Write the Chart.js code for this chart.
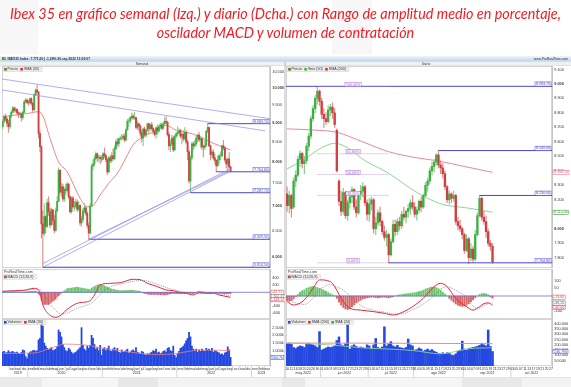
<!DOCTYPE html>
<html lang="es">
<head>
<meta charset="utf-8">
<title>Ibex 35 semanal y diario</title>
<script src="https://cdn.jsdelivr.net/npm/chart.js@4.4.1/dist/chart.umd.min.js"></script>
<style>
  html, body { margin: 0; padding: 0; }
  body { width: 571px; height: 387px; position: relative; overflow: hidden; background: #fff; }
  #titulo { position: absolute; left: 0; top: 4px; width: 571px; text-align: center; color: #ee1c24;
            font-family: Lato, "Open Sans", sans-serif; font-style: italic; font-size: 15px; line-height: 19px; white-space: nowrap; }
  canvas { position: absolute; }
</style>
</head>
<body>
<canvas id="fondo" width="571" height="387" style="left:0;top:0"></canvas>
<div id="titulo"><div id="l1">Ibex 35 en gráfico semanal (Izq.) y diario (Dcha.) con Rango de amplitud medio en porcentaje,</div><div id="l2">oscilador MACD y volumen de contratación</div></div>
<canvas id="precioSem" width="285" height="202" style="left:0;top:66px"></canvas>
<canvas id="macdSem" width="285" height="50" style="left:0;top:269px"></canvas>
<canvas id="volSem" width="285" height="58" style="left:0;top:319px"></canvas>
<canvas id="precioDia" width="286" height="202" style="left:285px;top:66px"></canvas>
<canvas id="macdDia" width="286" height="50" style="left:285px;top:269px"></canvas>
<canvas id="volDia" width="286" height="58" style="left:285px;top:319px"></canvas>
<script>
// ---------- gráfico semanal: Ibex 35, semanas desde el 2 sep 2019 ----------
const semInicio = [2019, 9, 2];
const semFuturo = 27;
const semAp = [
  8900, 9050, 9180, 9110, 9000, 8900, 9200, 9300, 9420, 9350,
  9380, 9290, 9250, 9260, 9150, 9300, 9600, 9650, 9580, 9570,
  9690, 9560, 9370, 9810, 9950, 9890, 8720, 8380, 6630, 6440,
  6780, 6580, 7070, 6880, 6610, 6920, 6700, 6500, 6900, 7100,
  7800, 7300, 7420, 7150, 7360, 7340, 7480, 7200, 6880, 7170,
  6980, 6990, 7080, 6930, 7010, 6650, 6720, 6900, 6960, 6850,
  6600, 6450, 7000, 7900, 7950, 8080, 8200, 8100, 8110, 8080,
  8070, 8200, 8150, 8050, 7760, 8100, 8030, 8150, 8080, 8330,
  8500, 8450, 8580, 8600, 8600, 8650, 8550, 8820, 9050, 9060,
  9150, 9190, 9140, 9150, 8880, 8980, 8920, 8730, 8600, 8840,
  8680, 8800, 8980, 8850, 8950, 8850, 8780, 8700, 8870, 8790,
  8900, 8950, 8860, 8980, 9050, 9020, 8690, 8400, 8450, 8600,
  8300, 8650, 8710, 8750, 8800, 8650, 8700, 8580, 8750, 8500,
  8250, 7550, 8100, 8450, 8400, 8450, 8600, 8680, 8550, 8580,
  8380, 8360, 8410, 8780, 8880, 8400, 8180, 8240, 8100, 8040,
  7910, 8050, 8150, 8150, 8400, 8350, 8050, 7950, 8070, 7880
];
const semMax = [
  9100, 9230, 9250, 9150, 9080, 9230, 9350, 9470, 9450, 9440,
  9400, 9320, 9300, 9280, 9330, 9640, 9700, 9680, 9650, 9710,
  9720, 9580, 9830, 9980, 10100, 9900, 8800, 8400, 6900, 7050,
  6800, 7150, 7200, 6950, 6960, 6930, 6800, 6960, 7200, 7860,
  7820, 7500, 7480, 7400, 7480, 7520, 7500, 7220, 7200, 7210,
  7100, 7150, 7130, 7100, 7030, 6780, 6950, 7050, 7000, 6880,
  6650, 7050, 7950, 8050, 8150, 8250, 8220, 8170, 8160, 8150,
  8230, 8350, 8200, 8080, 8130, 8160, 8230, 8320, 8400, 8560,
  8590, 8600, 8650, 8700, 8700, 8720, 8850, 9100, 9130, 9180,
  9280, 9250, 9300, 9160, 9050, 9000, 8950, 8800, 8870, 8900,
  8830, 9000, 9000, 8980, 9020, 8880, 8820, 8900, 8950, 8950,
  9000, 9000, 9030, 9150, 9180, 9050, 8750, 8550, 8680, 8650,
  8680, 8750, 8900, 8850, 8830, 8720, 8800, 8880, 8800, 8550,
  8300, 8150, 8500, 8500, 8550, 8650, 8700, 8750, 8650, 8620,
  8420, 8550, 8800, 8983.7, 8900, 8420, 8300, 8300, 8200, 8050,
  8150, 8200, 8250, 8420, 8540, 8380, 8080, 8100, 8230, 7900
];
const semMin = [
  8850, 9000, 9050, 8900, 8750, 8850, 9150, 9280, 9300, 9300,
  9220, 9150, 9200, 9050, 9100, 9280, 9560, 9540, 9500, 9540,
  9500, 9300, 9350, 9780, 9850, 8600, 8250, 6350, 5814.5, 6400,
  6450, 6550, 6800, 6550, 6600, 6620, 6450, 6480, 6880, 7100,
  7250, 7200, 7100, 7100, 7250, 7300, 7150, 6850, 6850, 6950,
  6900, 6950, 6880, 6900, 6600, 6580, 6680, 6850, 6800, 6550,
  6329.5, 6430, 6990, 7800, 7900, 8050, 8000, 8020, 7950, 8000,
  8050, 8100, 8000, 7700, 7750, 7980, 7990, 8050, 8050, 8300,
  8400, 8380, 8550, 8540, 8560, 8500, 8520, 8800, 8900, 9000,
  9100, 9100, 9100, 8850, 8820, 8800, 8650, 8500, 8400, 8650,
  8620, 8780, 8720, 8800, 8800, 8700, 8650, 8600, 8700, 8750,
  8850, 8820, 8830, 8950, 8980, 8650, 8300, 8250, 8420, 8250,
  8280, 8600, 8650, 8700, 8600, 8450, 8520, 8560, 8450, 8050,
  7500, 7287.7, 8050, 8300, 8350, 8400, 8500, 8500, 8350, 8300,
  8120, 8300, 8380, 8740, 8380, 8050, 8100, 8050, 7950, 7764.8,
  7880, 7950, 8050, 8120, 8300, 8000, 7850, 7757, 7850, 7760
];
const semCie = [
  9050, 9180, 9110, 9000, 8900, 9200, 9300, 9420, 9350, 9380,
  9290, 9250, 9260, 9150, 9300, 9600, 9650, 9580, 9570, 9690,
  9560, 9370, 9810, 9950, 9890, 8720, 8380, 6630, 6440, 6780,
  6580, 7070, 6880, 6610, 6920, 6700, 6500, 6900, 7100, 7800,
  7300, 7420, 7150, 7360, 7340, 7480, 7200, 6880, 7170, 6980,
  6990, 7080, 6930, 7010, 6650, 6720, 6900, 6960, 6850, 6600,
  6450, 7000, 7900, 7950, 8080, 8200, 8100, 8110, 8080, 8070,
  8200, 8150, 8050, 7760, 8100, 8030, 8150, 8080, 8330, 8500,
  8450, 8580, 8600, 8600, 8650, 8550, 8820, 9050, 9060, 9150,
  9190, 9140, 9150, 8880, 8980, 8920, 8730, 8600, 8840, 8680,
  8800, 8980, 8850, 8950, 8850, 8780, 8700, 8870, 8790, 8900,
  8950, 8860, 8980, 9050, 9020, 8690, 8400, 8450, 8600, 8300,
  8650, 8710, 8750, 8800, 8650, 8700, 8580, 8750, 8500, 8250,
  7550, 8100, 8450, 8400, 8450, 8600, 8680, 8550, 8580, 8380,
  8360, 8410, 8780, 8880, 8400, 8180, 8240, 8100, 8040, 7910,
  8050, 8150, 8150, 8400, 8350, 8050, 7950, 8070, 7880, 7772
];
// volumen semanal en miles
const semVol = [
  900, 960, 850, 880, 1000, 870, 920, 950, 880, 860,
  900, 820, 780, 880, 1050, 1000, 620, 480, 820, 900,
  940, 1000, 1020, 950, 1000, 1700, 1800, 2900, 2600, 1500,
  1300, 1150, 1050, 1100, 1200, 1000, 1050, 1100, 1250, 2350,
  2200, 1900, 1400, 1200, 1000, 950, 1150, 1050, 900, 800,
  850, 900, 1000, 1100, 1200, 2500, 1350, 1100, 1000, 1300,
  1150, 1350, 2000, 1800, 1400, 1100, 1200, 1000, 1350, 700,
  1100, 1200, 1000, 1150, 1300, 1000, 950, 1100, 1200, 1000,
  1150, 900, 850, 1050, 900, 950, 1000, 1100, 850, 900,
  1000, 1050, 950, 1200, 900, 850, 800, 950, 900, 750,
  700, 800, 750, 850, 900, 1000, 950, 1100, 850, 900,
  800, 850, 950, 1000, 900, 1150, 1200, 1000, 950, 1300,
  700, 550, 800, 950, 1150, 1200, 1300, 1450, 1650, 1800,
  2200, 1900, 1300, 1100, 1000, 1100, 900, 1050, 950, 1100,
  1000, 950, 1150, 1050, 1100, 1000, 1150, 900, 1000, 950,
  900, 850, 750, 800, 700, 850, 900, 1250, 1050, 560.7
];
const semHist = [
  10, 12, 10, 8, 5, 8, 12, 15, 14, 12,
  10, 8, 6, 5, 8, 12, 18, 20, 22, 25,
  28, 30, 35, 30, 20, -50, -90, -230, -340, -345,
  -345, -345, -350, -317, -283, -250, -227, -197, -135, -97,
  -58, -20, 12, 42, 72, 104, 110, 116, 122, 128,
  134, 140, 146, 138, 130, 122, 115, 107, 98, 90,
  85, 80, 115, 150, 161, 185, 205, 220, 225, 215,
  200, 185, 167, 149, 130, 112, 90, 82, 75, 67,
  60, 52, 45, 46, 47, 48, 50, 51, 54, 56,
  57, 60, 49, 44, 37, 32, 27, 2, -21, -32,
  -42, -53, -57, -60, -64, -64, -64, -64, -65, -67,
  -70, -71, -72, -73, -74, -63, -52, -45, -39, -33,
  -34, -36, -37, -39, -40, -35, -30, -25, -22, -23,
  -24, -26, -27, -35, -18, 0, 18, 32, 25, 18,
  11, 4, 0, 0, -1, -1, -2, -2, -9, -18,
  -26, -31, -32, -34, -35, -37, -39, -40, -42, -43
];
const semSma30 = [[0, 9175], [10, 9230], [18, 9270], [25, 9315], [28, 9200], [33, 8594], [39, 8000], [45, 7766],
  [54, 7165], [59, 6985], [62, 6990], [68, 7238], [74, 7500], [80, 7730], [86, 8100], [91, 8430], [98, 8629],
  [105, 8760], [114, 8938], [121, 8805], [128, 8760], [138, 8629], [147, 8464], [159, 8296]];
const semVolSma = [[0, 820], [22, 850], [33, 1150], [44, 1430], [54, 1390], [61, 1330], [68, 1190], [82, 1000],
  [96, 820], [108, 750], [119, 790], [133, 1000], [142, 1040], [159, 1000]];
const semMacd = [[0, 30], [9, 47], [15, 60], [22, 114], [24, 100], [26, -20], [28, -360], [32, -620], [37, -714],
  [41, -640], [45, -486], [52, -314], [59, -270], [61, -240], [64, -76], [68, 210], [75, 257], [82, 275], [91, 371],
  [96, 360], [101, 257], [108, 162], [114, 66], [119, 47], [124, -10], [128, -30], [133, -76], [137, -10], [142, -30],
  [147, -30], [151, -76], [159, -143]];
const semSenal = [[0, 20], [9, 35], [15, 48], [22, 85], [25, 88], [27, 40], [29, -80], [32, -270], [35, -430],
  [38, -560], [41, -620], [45, -590], [52, -460], [59, -360], [63, -280], [66, -150], [70, 20], [76, 170], [84, 250],
  [92, 320], [98, 340], [104, 280], [110, 200], [116, 110], [122, 50], [127, 0], [132, -40], [136, -45], [141, -30],
  [146, -28], [151, -45], [159, -100]];
// directrices: [semana, precio] inicio y fin
const semTendencias = [
  [[-0.5, 10286], [186.5, 9120]],
  [[-0.5, 9950], [183, 8790]],
  [[28, 5814.5], [159, 7780]],
  [[28, 5880], [159, 7840]],
  [[60, 6329.5], [159, 7800]]
];
const semSoportes = [8983.7, 7764.8, 7287.7, 6329.5, 5814.5];
const semSoportesDesde = [143, 149, 131, 60, 28];
const semMarcasPrecio = [6000, 6500, 7000, 7500, 8000, 8500, 9000, 9500, 10000, 10500];
const semMarcasMacd = [400, 200, -200, -400, -600];
const semMarcasVol = [1000, 1500, 2000, 2500];

// ---------- gráfico diario: Ibex 35, 10 may - 20 sep 2022 ----------
const anoDia = 2022;
const mesesDia = ['may', 'jun', 'jul', 'ago', 'sep', 'oct'];
const diasDia = [
  [10, 11, 12, 13, 16, 17, 18, 19, 20, 23, 24, 25, 26, 27, 30, 31],
  [1, 2, 3, 6, 7, 8, 9, 10, 13, 14, 15, 16, 17, 20, 21, 22, 23, 24, 27, 28, 29, 30],
  [1, 4, 5, 6, 7, 8, 11, 12, 13, 14, 15, 18, 19, 20, 21, 22, 25, 26, 27, 28, 29],
  [1, 2, 3, 4, 5, 8, 9, 10, 11, 12, 15, 16, 17, 18, 19, 22, 23, 24, 25, 26, 29, 30, 31],
  [1, 2, 5, 6, 7, 8, 9, 12, 13, 14, 15, 16, 19, 20, 21, 22, 23, 26, 27, 28, 29, 30],
  [3, 4, 5, 6, 7, 10, 11, 12, 13, 14, 17, 18, 19, 20, 21, 24, 25, 26, 27]
];
const diaAp = [
  8240, 8160, 8230, 8150, 8330, 8370, 8480, 8520, 8450, 8470,
  8570, 8640, 8760, 8830, 8900, 8950, 8880, 8790, 8760, 8740,
  8820, 8840, 8800, 8680, 8330, 8190, 8120, 8250, 8090, 8180,
  8220, 8270, 8150, 8110, 8240, 8260, 8290, 8180, 8100, 8170,
  8200, 8000, 8040, 8110, 8050, 7980, 7940, 7960, 7820, 7910,
  8030, 7980, 8050, 8020, 8100, 8080, 8120, 8140, 8180, 8150,
  8100, 8130, 8190, 8150, 8230, 8300, 8330, 8400, 8430, 8460,
  8510, 8440, 8420, 8380, 8290, 8200, 8240, 8210, 8230, 8050,
  8020, 8000, 7960, 7850, 7930, 7800, 7860, 7790, 7960, 8090,
  8210, 8080, 8050, 7980, 7900, 7880
];
const diaMax = [
  8290, 8260, 8240, 8350, 8400, 8500, 8540, 8530, 8500, 8590,
  8660, 8780, 8850, 8920, 8983.7, 8960, 8900, 8830, 8800, 8850,
  8860, 8870, 8830, 8690, 8340, 8260, 8280, 8260, 8200, 8240,
  8290, 8280, 8200, 8250, 8300, 8320, 8300, 8200, 8210, 8220,
  8210, 8080, 8130, 8150, 8060, 8020, 7990, 7970, 7930, 8060,
  8060, 8070, 8080, 8120, 8150, 8130, 8170, 8200, 8230, 8180,
  8150, 8200, 8220, 8240, 8320, 8350, 8420, 8460, 8480, 8520,
  8540, 8470, 8450, 8400, 8300, 8260, 8250, 8260, 8240, 8080,
  8060, 8010, 7970, 7960, 7940, 7900, 7880, 7990, 8110, 8230,
  8220, 8120, 8090, 8000, 7920, 7900
];
const diaMin = [
  8120, 8110, 8080, 8140, 8290, 8360, 8430, 8420, 8380, 8450,
  8540, 8620, 8740, 8800, 8860, 8850, 8760, 8700, 8720, 8730,
  8780, 8760, 8700, 8390, 8160, 8090, 8100, 8070, 8060, 8140,
  8180, 8130, 8080, 8100, 8200, 8220, 8160, 8060, 8050, 8130,
  7970, 7960, 8020, 8020, 7960, 7920, 7880, 7764.8, 7810, 7900,
  7950, 7960, 7990, 8000, 8060, 8040, 8080, 8100, 8130, 8080,
  8060, 8110, 8120, 8140, 8220, 8260, 8310, 8370, 8390, 8440,
  8420, 8380, 8350, 8270, 8180, 8170, 8180, 8190, 8030, 7990,
  7980, 7930, 7830, 7840, 7757, 7780, 7770, 7780, 7950, 8080,
  8060, 8030, 7940, 7880, 7850, 7760
];
const diaCie = [
  8160, 8230, 8140, 8330, 8370, 8480, 8520, 8450, 8470, 8570,
  8640, 8760, 8830, 8900, 8950, 8880, 8790, 8760, 8740, 8820,
  8840, 8800, 8720, 8400, 8190, 8120, 8250, 8090, 8180, 8220,
  8270, 8150, 8110, 8240, 8260, 8290, 8180, 8100, 8170, 8200,
  8000, 8040, 8110, 8050, 7980, 7940, 7960, 7820, 7910, 8030,
  7980, 8050, 8020, 8100, 8080, 8120, 8140, 8180, 8150, 8100,
  8130, 8190, 8150, 8230, 8300, 8330, 8400, 8430, 8460, 8510,
  8440, 8420, 8380, 8290, 8200, 8240, 8210, 8230, 8050, 8020,
  8000, 7960, 7850, 7930, 7800, 7860, 7790, 7960, 8090, 8210,
  8080, 8050, 7980, 7900, 7880, 7772
];
// volumen diario en miles
const diaVol = [
  210, 215, 205, 175, 165, 180, 190, 185, 175, 210,
  215, 205, 200, 190, 175, 325, 150, 160, 170, 180,
  175, 180, 190, 240, 275, 200, 190, 210, 405, 160,
  190, 200, 185, 170, 180, 175, 165, 200, 190, 160,
  200, 260, 175, 165, 180, 370, 190, 210, 230, 190,
  180, 195, 175, 170, 165, 175, 255, 200, 190, 150,
  155, 170, 160, 140, 150, 160, 145, 155, 140, 130,
  120, 115, 125, 110, 125, 120, 105, 100, 115, 140,
  150, 235, 160, 150, 165, 170, 175, 180, 185, 195,
  215, 200, 190, 340, 185, 136.79
];
const diaHist = [
  -30, -35, -30, -20, -5, 10, 25, 35, 40, 50,
  55, 60, 62, 60, 55, 50, 45, 38, 30, 22,
  15, 8, 2, -15, -40, -60, -75, -85, -88, -82,
  -70, -58, -45, -35, -28, -20, -15, -12, -10, -8,
  -8, -10, -12, -10, -8, -8, -10, -12, -8, -5,
  0, 5, 8, 10, 12, 14, 16, 18, 20, 22,
  25, 28, 32, 38, 45, 50, 55, 58, 60, 55,
  48, 38, 25, 12, 0, -15, -28, -40, -52, -60,
  -65, -68, -66, -60, -50, -38, -25, -12, 0, 10,
  15, 17, 14, 8, -6, -14
];
const diaSma50 = [[0, 8413], [8, 8480], [16, 8560], [22, 8590], [28, 8560], [35, 8480], [47, 8383], [55, 8300],
  [62, 8233], [68, 8190], [73, 8164], [80, 8150], [84, 8142], [95, 8114]];
const diaSma200 = [[0, 8690], [12, 8682], [23, 8666], [35, 8600], [47, 8532], [60, 8490], [70, 8468], [82, 8430], [95, 8390]];
const diaVolSma200 = [[0, 217], [30, 216], [60, 214], [95, 211]];
const diaVolSma20 = [[0, 217], [20, 200], [34, 173], [58, 147], [71, 115], [84, 163], [95, 173]];
const diaMacd = [[0, -37], [3, -59], [8, -26], [12, 50], [15, 105], [20, 94], [22, 61], [26, -37], [29, -80], [34, -92],
  [40, -102], [45, -113], [49, -124], [54, -102], [58, -70], [63, -15], [68, 61], [71, 83], [74, 61], [78, -15],
  [83, -70], [86, -92], [89, -70], [91, -50], [93, -45], [95, -60]];
const diaSenal = [[0, -7], [3, -39], [8, -55], [12, -15], [15, 40], [20, 75], [22, 65], [26, 38], [29, 2], [34, -60],
  [40, -94], [45, -105], [49, -117], [54, -114], [58, -90], [63, -53], [68, 1], [71, 45], [74, 61], [78, 37],
  [83, -10], [86, -67], [89, -80], [91, -62], [93, -50], [95, -46]];
const diaNiveles = [8983.7, 8540, 8230, 7764.8];
const diaNivelesDesde = [-0.5, 70, 89, 47];
const fibNiveles = [8983.7, 8518.1, 8374.3, 8230.4, 7764.8];
const fibTextos = ['100,00%', '61,80%', '50,00%', '38,20%', '0,00%'];
const fibTramo = [14, 47];
const diaMarcasPrecio = [7800, 7900, 8000, 8100, 8200, 8300, 8400, 8500, 8600, 8700, 8800, 8900, 9000, 9100];
const diaMarcasMacd = [100, 50, -50, -100];
const diaMarcasVol = [50, 100, 150, 200, 250, 300, 350, 400];

const MESES = ['ene', 'feb', 'mar', 'abr', 'may', 'jun', 'jul', 'ago', 'sep', 'oct', 'nov', 'dic'];
const FUENTE = '"Liberation Sans", Arial, sans-serif';
const VERDE = '#3cb043', ROJO = '#cf3f3f', AZUL = '#2448e0', LINEA = '#4646cc';

function fmt(v, dec) {
  const partes = Math.abs(v).toFixed(dec).split('.');
  return (v < 0 ? '-' : '') + partes[0].replace(/\B(?=(\d{3})+(?!\d))/g, '.') + (dec ? ',' + partes[1] : '');
}

// ---------- plugins ----------
const pluginMarco = {
  id: 'marco',
  beforeDraw(chart) {
    const a = chart.chartArea, ctx = chart.ctx;
    ctx.save();
    ctx.strokeStyle = '#c4c4c4';
    ctx.lineWidth = 0.7;
    ctx.strokeRect(a.left + 0.35, a.top + 0.35, a.right - a.left - 0.7, a.bottom - a.top - 0.7);
    ctx.restore();
  }
};

const pluginLeyenda = {
  id: 'leyenda',
  afterDatasetsDraw(chart, args, o) {
    if (!o || !o.items) return;
    const ctx = chart.ctx, a = chart.chartArea;
    ctx.save();
    ctx.font = '3.6px ' + FUENTE;
    ctx.textBaseline = 'middle';
    let y = a.top + 1;
    if (o.encabezado) {
      ctx.fillStyle = '#333';
      ctx.fillText(o.encabezado, a.left + 2, y + 2.2);
      y += 4.6;
    }
    let ancho = 1.5;
    o.items.forEach(it => { ancho += 3.6 + ctx.measureText(it.t).width + 2.5; });
    ctx.fillStyle = 'rgba(238,238,238,0.95)';
    ctx.fillRect(a.left + 1, y, ancho, 4.6);
    ctx.strokeStyle = '#c8c8c8';
    ctx.lineWidth = 0.4;
    ctx.strokeRect(a.left + 1, y, ancho, 4.6);
    let x = a.left + 2;
    o.items.forEach(it => {
      ctx.fillStyle = it.c;
      ctx.fillRect(x, y + 1, 2.6, 2.6);
      if (it.c2) { ctx.fillStyle = it.c2; ctx.fillRect(x + 1.3, y + 1, 1.3, 2.6); }
      x += 3.6;
      ctx.fillStyle = '#333';
      ctx.fillText(it.t, x, y + 2.4);
      x += ctx.measureText(it.t).width + 2.5;
    });
    ctx.restore();
  }
};

const pluginCajas = {
  id: 'cajas',
  afterDraw(chart, args, o) {
    if (!o || !o.lista) return;
    const ctx = chart.ctx, a = chart.chartArea, ys = chart.scales.y, xs = chart.scales.x;
    ctx.save();
    ctx.font = '3.6px ' + FUENTE;
    ctx.textBaseline = 'middle';
    o.lista.forEach(c => {
      const y = ys.getPixelForValue(c.v) + (c.dy || 0);
      const w = ctx.measureText(c.t).width + 2, h = 4.2;
      let x;
      if (c.lugar === 'eje') x = a.right + 1;
      else if (c.xv !== undefined) x = xs.getPixelForValue(c.xv) - w / 2;
      else x = a.right - w - 1;
      ctx.fillStyle = '#fff';
      ctx.fillRect(x, y - h / 2, w, h);
      ctx.strokeStyle = c.color;
      ctx.lineWidth = 0.5;
      ctx.strokeRect(x, y - h / 2, w, h);
      ctx.fillStyle = c.color;
      ctx.fillText(c.t, x + 1, y + 0.2);
    });
    ctx.restore();
  }
};

const pluginSeparadores = {
  id: 'separadores',
  afterDraw(chart, args, o) {
    if (!o || !o.lista) return;
    const ctx = chart.ctx, a = chart.chartArea, xs = chart.scales.x;
    ctx.save();
    ctx.strokeStyle = '#a8a8a8';
    ctx.lineWidth = 0.5;
    o.lista.forEach(s => {
      const x = xs.getPixelForValue(s.v);
      ctx.beginPath();
      ctx.moveTo(x, a.bottom);
      ctx.lineTo(x, a.bottom + (s.largo ? 11 : 4.5));
      ctx.stroke();
    });
    ctx.restore();
  }
};

Chart.register(pluginMarco, pluginLeyenda, pluginCajas, pluginSeparadores);
Chart.defaults.font.family = FUENTE;
Chart.defaults.font.size = 4;
Chart.defaults.color = '#333';
Chart.defaults.animation = false;

// ---------- ayudas ----------
function puntos(pares) { return pares.map(p => ({ x: p[0], y: p[1] })); }
function serie(valores) { return valores.map((v, i) => ({ x: i, y: v })); }

function velas(ap, ma, mi, ci, cuerpo, mecha) {
  const sube = ci.map((c, i) => c >= ap[i]);
  return [
    { type: 'bar', grouped: false, order: 3, borderWidth: 0, barThickness: mecha,
      data: mi.map((v, i) => ({ x: i, y: [v, ma[i]] })),
      backgroundColor: sube.map(s => s ? '#8fcd8f' : '#dc9090') },
    { type: 'bar', grouped: false, order: 2, borderWidth: 0, barThickness: cuerpo,
      data: ap.map((v, i) => ({ x: i, y: [v, ci[i]] })),
      backgroundColor: sube.map(s => s ? VERDE : ROJO) }
  ];
}

function linea(pares, color, ancho, extra) {
  return Object.assign({ type: 'line', data: puntos(pares), borderColor: color, borderWidth: ancho,
    pointRadius: 0, fill: false, order: 1 }, extra || {});
}

function curva(pares, color, ancho, extra) {
  return linea(pares, color, ancho, Object.assign({ cubicInterpolationMode: 'monotone' }, extra || {}));
}

function ejeY(o) {
  return {
    type: o.tipo || 'linear', position: 'right', min: o.min, max: o.max, bounds: 'data',
    grid: { display: false, drawTicks: true, tickLength: 1.5 },
    border: { display: true, color: '#a0a0a0', width: 0.6 },
    ticks: { autoSkip: false, padding: 0.8, color: '#333', font: o.fuente || { size: 3.8 }, callback: o.formato },
    afterBuildTicks: s => { s.ticks = o.marcas.map(v => ({ value: v })); },
    afterFit: s => { s.width = o.ancho; s.paddingTop = 0; s.paddingBottom = 0; }
  };
}

function ejeX(total, marcas) {
  return {
    type: 'linear', min: -0.5, max: total - 0.5, bounds: 'data', offset: false, display: !!marcas,
    grid: { display: false, drawTicks: false }, border: { display: false },
    ticks: { autoSkip: false, maxRotation: 0, minRotation: 0, padding: 0.4, color: '#333',
      font: { size: 3.5, lineHeight: 1.3 }, callback: (v, i, t) => t[i].etiqueta },
    afterBuildTicks: s => { if (marcas) s.ticks = marcas.map(m => ({ value: m.v, etiqueta: m.t })); },
    afterFit: s => { if (marcas) s.height = 11; s.paddingLeft = 0; s.paddingRight = 0; }
  };
}

function opciones(padIzq, escalas, plugins) {
  return {
    responsive: false, animation: false, events: [],
    layout: { padding: { left: padIzq, right: 0, top: 0, bottom: 0 } },
    scales: escalas,
    plugins: Object.assign({ legend: { display: false }, tooltip: { enabled: false } }, plugins)
  };
}

function marcasSemana(total) {
  const t0 = Date.UTC(semInicio[0], semInicio[1] - 1, semInicio[2]);
  const grupos = [];
  for (let i = 0; i < total; i++) {
    const d = new Date(t0 + i * 7 * 86400000);
    const a = d.getUTCFullYear(), m = d.getUTCMonth();
    const u = grupos[grupos.length - 1];
    if (u && u.a === a && u.m === m) u.fin = i; else grupos.push({ a, m, ini: i, fin: i });
  }
  grupos.shift();
  const marcas = grupos.map(g => ({ v: (g.ini + g.fin) / 2, t: MESES[g.m], a: g.a }));
  [...new Set(marcas.map(m => m.a))].forEach(a => {
    const del = marcas.filter(m => m.a === a);
    const c = del[Math.floor((del.length - 1) / 2)];
    c.t = [c.t, String(a)];
  });
  const seps = grupos.map(g => ({ v: g.ini - 0.5, largo: g.m === 0 }));
  return { marcas, seps };
}

function marcasDia() {
  const marcas = [], seps = [];
  let i = 0;
  diasDia.forEach((dias, k) => {
    const ini = i;
    if (k > 0) seps.push({ v: ini - 0.5, largo: true });
    dias.forEach((d, j) => {
      if (j % 2 === 0) marcas.push({ v: i, t: String(d).padStart(2, '0') });
      i++;
    });
    marcas.push({ v: (ini + i - 1) / 2, t: ['', mesesDia[k] + ' ' + anoDia] });
  });
  return { marcas, seps, total: i };
}

function negritaMil(c) {
  return { size: 3.8, weight: c.tick && c.tick.value % 1000 === 0 ? 'bold' : 'normal' };
}

// ---------- fondo, cabecera ----------
function dibujarFondo() {
  const g = document.getElementById('fondo').getContext('2d');
  const franjas = [[0, 42, '#ebebeb'], [42, 118, '#f5f5f5'], [118, 158, '#e7e7e7'], [158, 282, '#f3f3f3'],
    [282, 305, '#e9e9e9'], [305, 462, '#f5f5f5'], [462, 522, '#e9e9e9'], [522, 571, '#f3f3f3']];
  franjas.forEach(f => { g.fillStyle = f[2]; g.fillRect(f[0], 378, f[1] - f[0], 9); });
  g.fillStyle = '#f7f7f7';
  g.fillRect(0, 0, 38, 54);
  g.fillRect(332, 0, 40, 54);
  const gr = g.createLinearGradient(0, 56, 0, 61);
  gr.addColorStop(0, '#eef5fc');
  gr.addColorStop(1, '#c3d7eb');
  g.fillStyle = gr;
  g.fillRect(0, 56, 571, 5);
  g.fillStyle = '#9ab2c9';
  g.fillRect(0, 61, 571, 0.6);
  g.fillStyle = '#5aa02c';
  g.fillRect(2, 57, 4, 3);
  g.fillStyle = '#e8c020';
  g.fillRect(4, 57.4, 2, 1.4);
  g.textBaseline = 'middle';
  g.font = 'bold 3.3px ' + FUENTE;
  g.fillStyle = '#1c2a44';
  g.fillText('IBEX35 Index: 7.771,60 | -1,28% 20.sep.2022 13:05:07', 7.5, 58.6);
  g.textAlign = 'right';
  g.font = '3.3px ' + FUENTE;
  g.fillText('www.ProRealTime.com', 568, 58.6);
  g.fillStyle = '#f0f0f0';
  g.fillRect(0, 61.6, 284.5, 4.4);
  g.fillRect(285.5, 61.6, 285.5, 4.4);
  g.fillStyle = '#d0d0d0';
  g.fillRect(0, 65.6, 571, 0.4);
  g.textAlign = 'center';
  g.fillStyle = '#333';
  g.font = '3.2px ' + FUENTE;
  g.fillText('Semanal', 142, 63.8);
  g.fillText('Diario', 426, 63.8);
  g.fillStyle = '#a8a8a8';
  g.fillRect(284.6, 61.6, 0.8, 316.4);
  g.fillStyle = '#c8c8c8';
  g.fillRect(0, 377.5, 571, 0.5);
}

function ajustarTitulo() {
  const ctx = document.createElement('canvas').getContext('2d');
  ctx.font = 'italic 100px Lato';
  const w = ctx.measureText(document.getElementById('l1').textContent).width;
  document.getElementById('titulo').style.fontSize = (100 * 552 / w).toFixed(2) + 'px';
}

// ---------- panel semanal ----------
function panelSemanal() {
  const total = semCie.length + semFuturo;
  const fin = total - 0.5;
  const eje = marcasSemana(total);
  const soportes = semSoportes.map((p, k) => linea([[semSoportesDesde[k], p], [fin, p]], LINEA, 1));
  const tendencias = semTendencias.map(t => linea(t, '#8c8ce4', 0.7));

  new Chart(document.getElementById('precioSem'), {
    type: 'bar',
    data: { datasets: [
      curva(semSma30, '#e46a6a', 0.8, { order: 4 }),
      ...velas(semAp, semMax, semMin, semCie, 1.2, 0.5),
      ...tendencias, ...soportes
    ] },
    options: opciones(2, {
      x: ejeX(total, null),
      y: ejeY({ tipo: 'logarithmic', min: 5801, max: 10699, ancho: 15, marcas: semMarcasPrecio,
        formato: v => fmt(v, 0), fuente: negritaMil })
    }, {
      leyenda: { items: [{ t: 'Precio', c: VERDE, c2: ROJO }, { t: 'SMA (30)', c: '#e03030' }] },
      cajas: { lista: semSoportes.map(p => ({ v: p, t: fmt(p, 2), color: LINEA, dy: -2.3 })) }
    })
  });

  new Chart(document.getElementById('macdSem'), {
    type: 'bar',
    data: { datasets: [
      { type: 'bar', data: serie(semHist), barThickness: 0.8, borderWidth: 0, order: 3,
        backgroundColor: semHist.map(v => v >= 0 ? '#6cc46c' : '#d86666') },
      linea([[-0.5, 0], [fin, 0]], '#6a6ae6', 0.8, { order: 2 }),
      curva(semSenal, '#777', 0.7, { borderDash: [1, 1] }),
      curva(semMacd, '#e0283c', 1)
    ] },
    options: opciones(2, {
      x: ejeX(total, null),
      y: ejeY({ min: -763, max: 666, ancho: 15, marcas: semMarcasMacd, formato: v => fmt(v, 0) })
    }, {
      leyenda: { encabezado: 'ProRealTime.com', items: [{ t: 'MACD (12,26,9)', c: ROJO, c2: '#5a9a5a' }] },
      cajas: { lista: [
        { v: -42.71, t: '-42,71', color: '#d05050', lugar: 'eje', dy: -1.6 },
        { v: -100.41, t: '-100,41', color: '#666', lugar: 'eje', dy: 0.6 },
        { v: -143.12, t: '-143,12', color: '#e0283c', lugar: 'eje', dy: 2.4 }
      ] }
    })
  });

  new Chart(document.getElementById('volSem'), {
    type: 'bar',
    data: { datasets: [
      { type: 'bar', data: serie(semVol), barThickness: 1.15, borderWidth: 0, order: 2, backgroundColor: AZUL },
      curva(semVolSma, '#ec8080', 0.8)
    ] },
    options: opciones(2, {
      x: ejeX(total, eje.marcas),
      y: ejeY({ min: 0, max: 3064, ancho: 15, marcas: semMarcasVol, formato: v => fmt(v, 0) + 'k' })
    }, {
      leyenda: { items: [{ t: 'Volumen', c: AZUL }, { t: 'SMA (30)', c: '#e03030' }] },
      cajas: { lista: [{ v: semVol[semVol.length - 1], t: '560,7k', color: AZUL, lugar: 'eje' }] },
      separadores: { lista: eje.seps }
    })
  });
}

// ---------- panel diario ----------
function panelDiario() {
  const eje = marcasDia();
  const total = eje.total;
  const fin = total - 0.5;
  const niveles = diaNiveles.map((p, k) => linea([[diaNivelesDesde[k], p], [fin, p]], LINEA, 1));
  const fib = fibNiveles.map(p => linea([[fibTramo[0], p], [fibTramo[1], p]], '#b07ad8', 0.7, { borderDash: [1, 1] }));
  const medio = (fibTramo[0] + fibTramo[1]) / 2;

  new Chart(document.getElementById('precioDia'), {
    type: 'bar',
    data: { datasets: [
      curva(diaSma200, '#e8879d', 1, { order: 4 }),
      curva(diaSma50, '#8ed48e', 1, { order: 4 }),
      ...velas(diaAp, diaMax, diaMin, diaCie, 1.7, 0.6),
      ...fib, ...niveles
    ] },
    options: opciones(1, {
      x: ejeX(total, null),
      y: ejeY({ min: 7729, max: 9124, ancho: 19, marcas: diaMarcasPrecio, formato: v => fmt(v, 0), fuente: negritaMil })
    }, {
      leyenda: { items: [{ t: 'Precio', c: VERDE, c2: ROJO }, { t: 'Sma (50)', c: VERDE }, { t: 'SMA (200)', c: '#e03030' }] },
      cajas: { lista: [
        ...diaNiveles.map(p => ({ v: p, t: fmt(p, 2), color: LINEA, dy: -2.3 })),
        ...fibNiveles.map((p, k) => ({ v: p, t: fibTextos[k], xv: medio, color: '#a060d0', dy: -2 })),
        { v: 8390, t: '8.390,10', color: '#e0607a', lugar: 'eje' },
        { v: 8114, t: '8.110,40', color: '#38a038', lugar: 'eje' }
      ] }
    })
  });

  new Chart(document.getElementById('macdDia'), {
    type: 'bar',
    data: { datasets: [
      { type: 'bar', data: serie(diaHist), barThickness: 1.3, borderWidth: 0, order: 3,
        backgroundColor: diaHist.map(v => v >= 0 ? '#6cc46c' : '#d86666') },
      linea([[-0.5, 0], [fin, 0]], '#6a6ae6', 0.8, { order: 2 }),
      curva(diaSenal, '#777', 0.7, { borderDash: [1, 1] }),
      curva(diaMacd, '#e0283c', 1)
    ] },
    options: opciones(1, {
      x: ejeX(total, null),
      y: ejeY({ min: -150, max: 176, ancho: 19, marcas: diaMarcasMacd, formato: v => fmt(v, 0) })
    }, {
      leyenda: { encabezado: 'ProRealTime.com', items: [{ t: 'MACD (12,26,9)', c: ROJO, c2: '#5a9a5a' }] },
      cajas: { lista: [
        { v: -14, t: '-13,60', color: '#d05050', lugar: 'eje', dy: -1 },
        { v: -46, t: '-46,20', color: '#666', lugar: 'eje', dy: 0 },
        { v: -60, t: '-60,00', color: '#e0283c', lugar: 'eje', dy: 2.4 }
      ] }
    })
  });

  new Chart(document.getElementById('volDia'), {
    type: 'bar',
    data: { datasets: [
      { type: 'bar', data: serie(diaVol), barThickness: 1.9, borderWidth: 0, order: 2, backgroundColor: AZUL },
      curva(diaVolSma200, '#ec8a8a', 1),
      curva(diaVolSma20, '#8ed48e', 0.9)
    ] },
    options: opciones(1, {
      x: ejeX(total, eje.marcas),
      y: ejeY({ min: 0, max: 444, ancho: 19, marcas: diaMarcasVol, formato: v => fmt(v * 1000, 0) })
    }, {
      leyenda: { items: [{ t: 'Volumen', c: AZUL }, { t: 'SMA (200)', c: '#e03030' }, { t: 'SMA (20)', c: VERDE }] },
      cajas: { lista: [{ v: diaVol[diaVol.length - 1], t: '136.790', color: AZUL, lugar: 'eje' }] },
      separadores: { lista: eje.seps }
    })
  });
}

ajustarTitulo();
dibujarFondo();
panelSemanal();
panelDiario();
</script>
</body>
</html>
